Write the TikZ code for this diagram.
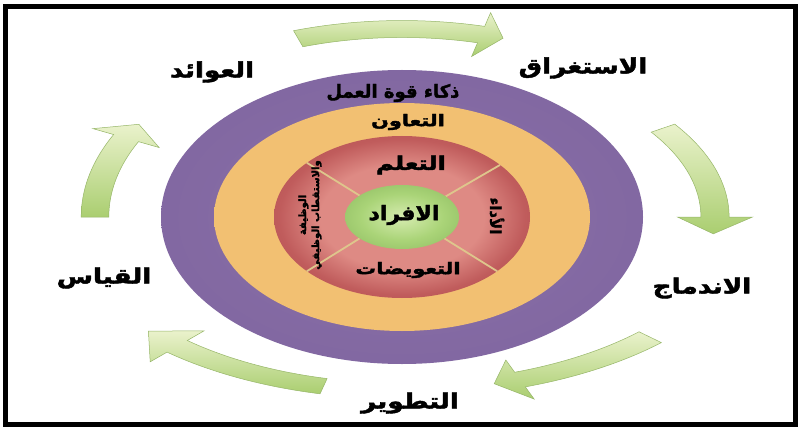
\documentclass[tikz,border=0pt]{standalone}
\usepackage{fontspec}
\newfontfamily\arabicfont[Script=Arabic, FakeBold=2]{DejaVu Sans Bold}
\TeXXeTstate=1
\usetikzlibrary{calc}

\definecolor{purplelight}{RGB}{138,112,168}
\definecolor{purplemid}{RGB}{128,102,160}
\definecolor{purpledark}{RGB}{110,88,146}
\definecolor{orangelight}{RGB}{242,192,114}
\definecolor{orangemid}{RGB}{236,180,100}
\definecolor{orangedark}{RGB}{224,160,88}
\definecolor{redlight}{RGB}{222,138,132}
\definecolor{redmid}{RGB}{192,92,92}
\definecolor{reddark}{RGB}{172,74,76}
\definecolor{greenlight}{RGB}{214,236,176}
\definecolor{greenmid}{RGB}{170,212,120}
\definecolor{greendark}{RGB}{140,186,96}
\definecolor{arrowlight}{RGB}{234,242,204}
\definecolor{arrowdark}{RGB}{170,206,112}
\definecolor{arrowedge}{RGB}{150,182,104}
\definecolor{dividertan}{RGB}{222,198,140}

% the 100bp square is fitted to the bounding box, so the ellipse edge sits near 35bp
\pgfdeclareradialshading{purplering}{\pgfpoint{0bp}{0bp}}{color(0bp)=(purplelight); color(31bp)=(purplemid); color(35bp)=(purpledark); color(50bp)=(purpledark)}
\pgfdeclareradialshading{orangering}{\pgfpoint{0bp}{0bp}}{color(0bp)=(orangelight); color(26bp)=(orangelight); color(32bp)=(orangemid); color(35bp)=(orangedark); color(50bp)=(orangedark)}
\pgfdeclareradialshading{reddisc}{\pgfpoint{0bp}{0bp}}{color(0bp)=(redlight); color(16bp)=(redlight); color(24bp)=(redmid); color(35bp)=(reddark); color(50bp)=(reddark)}
\pgfdeclareradialshading{greendisc}{\pgfpoint{0bp}{0bp}}{color(0bp)=(greenlight); color(18bp)=(greenmid); color(35bp)=(greendark); color(50bp)=(greendark)}

\tikzset{
  arfont/.style={font=\arabicfont\fontsize{#1}{#1}\selectfont},
  outerlabel/.style={arfont=21, inner sep=0, xscale=1.25},
  ringlabel/.style={inner sep=0},
  divider/.style={draw=dividertan, line width=1.8},
  cyclearrowstyle/.style={top color=arrowlight, bottom color=arrowdark, draw=arrowedge, line width=0.5},
}

% rx, ry, tail angle, head angle, tip angle
\newcommand{\cyclearrow}[5]{%
  \shade[cyclearrowstyle] ({#3}:{#1*1.045} and {#2*1.045})
    arc[start angle=#3, end angle=#4, x radius={#1*1.045}, y radius={#2*1.045}]
    -- ({#4}:{#1*1.12} and {#2*1.12}) -- ({#5}:{#1} and {#2})
    -- ({#4}:{#1*0.88} and {#2*0.88}) -- ({#4}:{#1*0.955} and {#2*0.955})
    arc[start angle=#4, end angle=#3, x radius={#1*0.955}, y radius={#2*0.955}]
    -- cycle;}

\begin{document}
\begin{tikzpicture}[x=1pt, y=1pt]
  \useasboundingbox (0,0) rectangle (800,429);
  \fill[white] (0,0) rectangle (800,429);
  \draw[line width=5] (5,4.5) rectangle (795,422);

  \begin{scope}[shift={(402,212)}]
    \shade[shading=purplering] (0,0) ellipse [x radius=241, y radius=147];
    \shade[shading=orangering] (0,0) ellipse [x radius=188, y radius=114];
    \shade[shading=reddisc] (0,0) ellipse [x radius=128, y radius=81];
    \foreach \a in {40,138,222,318}
      \draw[divider] (\a:57 and 32) -- (\a:128 and 81);
    \shade[shading=greendisc] (0,0) ellipse [x radius=57, y radius=32];

    % cycle arrows
    \cyclearrow{327}{188}{108.5}{76}{72}
    \cyclearrow{313}{161}{33.5}{0}{-6}
    \cyclearrow{345}{173}{-44}{-70}{-74.5}
    \cyclearrow{336}{174}{-103.5}{-132}{-139}
    \cyclearrow{307}{180}{180}{154}{149}
  \end{scope}

  \node[ringlabel, arfont=18] (intel) at (393,336) {\beginR ذكاء قوة العمل\endR};
  \node[ringlabel, arfont=16, xscale=1.3] (collab) at (408,307) {\beginR التعاون\endR};
  \node[ringlabel, arfont=19, xscale=1.28] (learn) at (411,264) {\beginR التعلم\endR};
  \node[ringlabel, arfont=20, xscale=1.1] (people) at (404,214) {\beginR الافراد\endR};
  \node[ringlabel, arfont=16, xscale=1.3] (comp) at (408,159) {\beginR التعويضات\endR};
  \node[ringlabel, arfont=15, rotate=-90] (perf) at (497,213) {\beginR الأداء\endR};
  \node[ringlabel, arfont=10, rotate=90, align=center] (staff) at (310,214) {\beginR الوظيفة\endR\\[2pt] \beginR والاستقطاب الوظيفي\endR};

  \node[outerlabel] (engage) at (583,361) {\beginR الاستغراق\endR};
  \node[outerlabel] (integrate) at (702,141) {\beginR الاندماج\endR};
  \node[outerlabel] (develop) at (410,26) {\beginR التطوير\endR};
  \node[outerlabel] (measure) at (104,151) {\beginR القياس\endR};
  \node[outerlabel] (returns) at (212,357) {\beginR العوائد\endR};
\end{tikzpicture}
\end{document}
